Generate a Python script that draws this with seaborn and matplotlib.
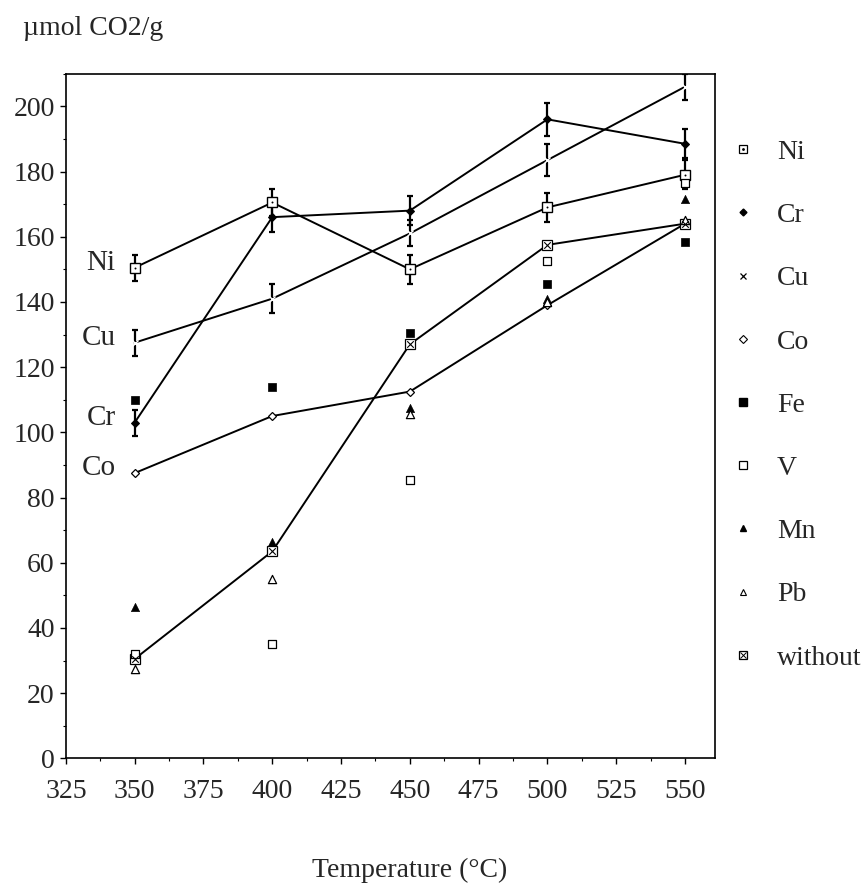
import numpy as np
import pandas as pd
import matplotlib
matplotlib.use("Agg")
import matplotlib.pyplot as plt
import seaborn as sns
from matplotlib.legend_handler import HandlerTuple
from matplotlib.ticker import MultipleLocator

# CO2 uptake (umol CO2/g) versus temperature for each dopant
temps = [350, 400, 450, 500, 550]
ni = [150.5, 170.5, 150, 169, 179]
ni_err = [4, 4, 4.5, 4.5, 4.5]
cr = [103, 166, 168, 196, 188.5]
cr_err = [4, 4.5, 4.5, 5, 4.5]
cu = [127.5, 141, 161, 183.5, 206]
cu_err = [4, 4.5, 4, 5, 4]
co = [87.5, 105, 112.5, 139, 164]
fe = [110, 114, 130.5, 145.5, 158.5]
v = [32, 35, 85.5, 152.5, 176.5]
mn = [46.5, 66.5, 107.5, 141, 171.5]
pb = [27.5, 55, 105.5, 140, 165]
without = [30.5, 63.5, 127, 157.5, 164]

sns.set_style("ticks")
plt.rcParams['font.family'] = ['Liberation Serif', 'DejaVu Serif']

fig = plt.figure(figsize=(8.67, 8.88), dpi=100)
ax = fig.add_axes([0.076, 0.146, 0.749, 0.771])

df = pd.DataFrame({'T': temps, 'Ni': ni, 'Cr': cr, 'Cu': cu, 'Co': co, 'Fe': fe,
                   'V': v, 'Mn': mn, 'Pb': pb, 'without': without})

lw = 1.4
# series with connecting lines
sns.lineplot(data=df, x='T', y='Ni', ax=ax, color='black', lw=lw, marker='s', ms=7,
             mfc='white', mec='black', mew=1.0, zorder=3)
sns.lineplot(data=df, x='T', y='Cr', ax=ax, color='black', lw=lw, marker='D', ms=4,
             mfc='black', mec='black', zorder=3)
sns.lineplot(data=df, x='T', y='Cu', ax=ax, color='black', lw=lw, marker='x', ms=5,
             mew=1.0, zorder=3)
sns.lineplot(data=df, x='T', y='Co', ax=ax, color='black', lw=lw, marker='D', ms=4.5,
             mfc='white', mec='black', mew=0.9, zorder=3)
sns.lineplot(data=df, x='T', y='without', ax=ax, color='black', lw=lw, marker='s', ms=7,
             mfc='white', mec='black', mew=0.9, zorder=3)
# inner marks of Ni and "without" symbols
sns.scatterplot(data=df, x='T', y='Ni', ax=ax, color='black', marker='.', s=8,
                linewidth=0, zorder=4)
sns.scatterplot(data=df, x='T', y='without', ax=ax, color='black', marker='x', s=22,
                linewidth=0.8, zorder=4)

# marker-only series
sns.scatterplot(data=df, x='T', y='Fe', ax=ax, color='black', marker='s', s=40,
                edgecolor='black', zorder=3)
sns.scatterplot(data=df, x='T', y='V', ax=ax, marker='s', s=40, facecolor='white',
                edgecolor='black', linewidth=0.9, zorder=3)
sns.scatterplot(data=df, x='T', y='Mn', ax=ax, color='black', marker='^', s=35,
                edgecolor='black', zorder=3)
sns.scatterplot(data=df, x='T', y='Pb', ax=ax, marker='^', s=35, facecolor='white',
                edgecolor='black', linewidth=0.9, zorder=3)

# error bars
for vals, err in [(ni, ni_err), (cr, cr_err), (cu, cu_err)]:
    ax.errorbar(temps, vals, yerr=err, fmt='none', ecolor='black', elinewidth=1.6,
                capsize=2.5, capthick=1.6, zorder=2)

# series labels on the left
for name, vals in [('Ni', ni), ('Cu', cu), ('Cr', cr), ('Co', co)]:
    ax.text(343, vals[0] + 1.5, name, ha='right', va='center', fontsize=21)

ax.set_xlim(325, 561)
ax.set_ylim(0, 210)
ax.set_xticks(np.arange(325, 551, 25))
ax.set_yticks(np.arange(0, 201, 20))
ax.xaxis.set_minor_locator(MultipleLocator(12.5))
ax.yaxis.set_minor_locator(MultipleLocator(10))
ax.tick_params(axis='both', which='major', labelsize=20, length=4, width=1, color='black')
ax.tick_params(axis='x', which='major', pad=11)
ax.tick_params(axis='y', which='major', pad=4)
ax.tick_params(axis='both', which='minor', length=2, width=0.8, color='black')
for s in ax.spines.values():
    s.set_color('black')
    s.set_linewidth(1.2)
ax.set_xlabel('')
ax.set_ylabel('')

fig.text(0.027, 0.968, 'µmol CO2/g', ha='left', va='center', fontsize=20)
fig.text(0.473, 0.02, 'Temperature (°C)', ha='center', va='center', fontsize=20)

# legend
def mk(**kw):
    return plt.Line2D([], [], ls='none', color='black', **kw)

handles = [
    (mk(marker='s', ms=6, mfc='white', mew=0.9), mk(marker='.', ms=2)),
    mk(marker='D', ms=3.5),
    mk(marker='x', ms=4, mew=0.9),
    mk(marker='D', ms=4, mfc='white', mew=0.8),
    mk(marker='s', ms=6),
    mk(marker='s', ms=6, mfc='white', mew=0.9),
    mk(marker='^', ms=5),
    mk(marker='^', ms=5, mfc='white', mew=0.8),
    (mk(marker='s', ms=6, mfc='white', mew=0.9), mk(marker='x', ms=4, mew=0.7)),
]
labels = ['Ni', 'Cr', 'Cu', 'Co', 'Fe', 'V', 'Mn', 'Pb', 'without']
fig.legend(handles, labels, loc='upper left', bbox_to_anchor=(0.841, 0.843),
           frameon=False, fontsize=20, labelspacing=1.36, handlelength=1.0,
           handletextpad=0.72, borderpad=0, borderaxespad=0,
           handler_map={tuple: HandlerTuple(ndivide=1, pad=0)})

fig.savefig('out.png', dpi=100)
